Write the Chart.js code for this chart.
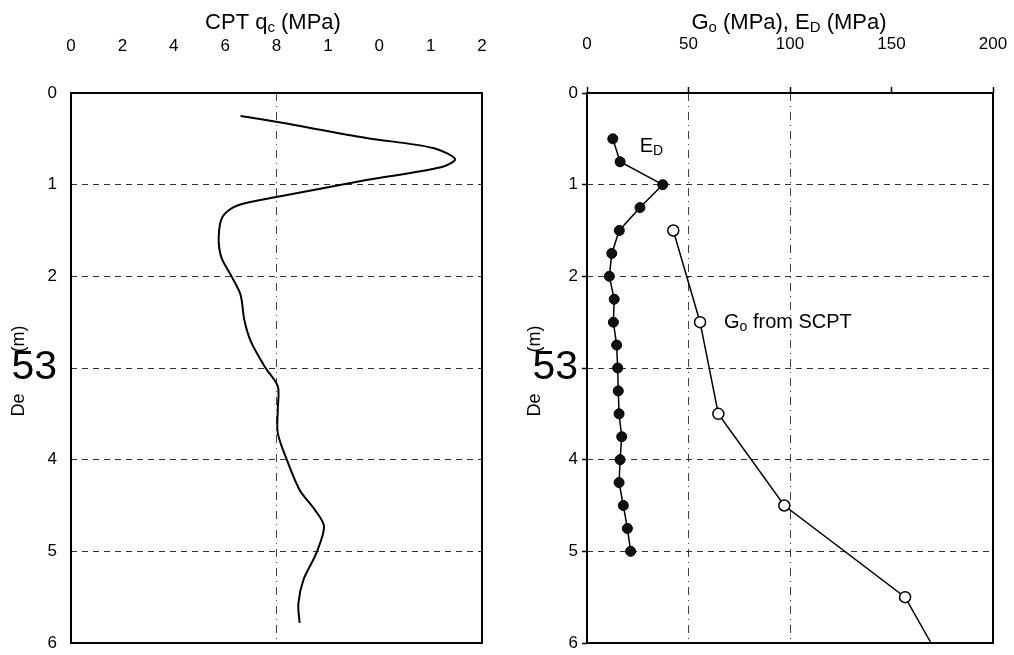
<!DOCTYPE html>
<html>
<head>
<meta charset="utf-8">
<script src="https://cdn.jsdelivr.net/npm/chart.js@4.4.0/dist/chart.umd.min.js"></script>
<style>
  body { margin: 0; background: #fff; }
  #wrap { position: relative; width: 1014px; height: 655px; background: #fff; }
  canvas { position: absolute; top: 0; }
</style>
</head>
<body>
<div id="wrap">
  <canvas id="cpt" width="507" height="655" style="left:0"></canvas>
  <canvas id="mod" width="507" height="655" style="left:507px"></canvas>
</div>
<script>
// left panel: CPT cone resistance vs depth
const cptDepth = [0.25, 0.32, 0.49, 0.60, 0.72, 0.81, 0.95, 1.13, 1.23, 1.35, 1.57, 1.79, 2.00, 2.20, 2.48, 2.71, 2.99, 3.20, 3.45, 3.71, 4.00, 4.33, 4.55, 4.73, 5.02, 5.31, 5.57, 5.78];
const cptQc    = [6.6, 8.1, 11.5, 14.1, 14.95, 14.4, 11.5, 8.1, 6.45, 5.9, 5.75, 5.85, 6.25, 6.6, 6.75, 7.0, 7.55, 8.05, 8.05, 8.05, 8.4, 8.9, 9.5, 9.85, 9.55, 9.05, 8.85, 8.9];
const cptTickLabels = ['0', '2', '4', '6', '8', '1', '0', '1', '2'];

// right panel: E_D (DMT) and G_o (SCPT)
const edDepth  = [0.5, 0.75, 1, 1.25, 1.5, 1.75, 2, 2.25, 2.5, 2.75, 3, 3.25, 3.5, 3.75, 4, 4.25, 4.5, 4.75, 5];
const edValues = [12.7, 16.3, 37.3, 26.1, 15.9, 12.2, 11.0, 13.4, 13.0, 14.6, 15.1, 15.4, 15.8, 17.1, 16.3, 15.8, 17.9, 19.9, 21.5];
const goDepth  = [1.5, 2.5, 3.5, 4.5, 5.5, 6.0];
const goValues = [42.5, 55.7, 64.7, 97.2, 156.7, 169.5];

// depth labels as printed (the "3" came out as a big "53"), indexed by depth
const depthTickLabels = ['0', '1', '2', '53', '4', '5', '6'];

const FONT = "'Liberation Sans', Arial, sans-serif";
const pts = (xs, ys) => xs.map((v, i) => ({ x: v, y: ys[i] }));
const clear = 'rgba(0,0,0,0)';

// text with subscripts: parts = [[text, isSub], ...]
function richText(ctx, parts, x, y, size, align) {
  ctx.textBaseline = 'alphabetic';
  ctx.textAlign = 'left';
  let w = 0;
  parts.forEach(p => {
    ctx.font = (p[1] ? Math.round(size * 0.68) : size) + 'px ' + FONT;
    w += ctx.measureText(p[0]).width;
  });
  let cx = align === 'center' ? x - w / 2 : x;
  parts.forEach(p => {
    ctx.font = (p[1] ? Math.round(size * 0.68) : size) + 'px ' + FONT;
    ctx.fillText(p[0], cx, p[1] ? y + 3 : y);
    cx += ctx.measureText(p[0]).width;
  });
}

const decor = {
  id: 'decor',
  afterDraw(chart, args, o) {
    const { ctx, chartArea: a } = chart;
    ctx.save();
    // frame
    ctx.strokeStyle = '#000';
    ctx.lineWidth = 2;
    ctx.strokeRect(a.left, a.top, a.right - a.left, a.bottom - a.top);
    ctx.fillStyle = '#000';
    // title
    richText(ctx, o.title, o.titleX, 29, 22, 'center');
    // broken depth title: "De" ... "(m)" rotated
    ctx.font = '18px ' + FONT;
    ctx.textAlign = 'center';
    ctx.textBaseline = 'middle';
    [['De', 405], ['(m)', 339]].forEach(t => {
      ctx.save();
      ctx.translate(o.axisX, t[1]);
      ctx.rotate(-Math.PI / 2);
      ctx.fillText(t[0], 0, 0);
      ctx.restore();
    });
    // annotations
    (o.notes || []).forEach(n => {
      const px = chart.scales.x.getPixelForValue(n.x);
      const py = chart.scales.y.getPixelForValue(n.y);
      richText(ctx, n.parts, px, py, 20, 'left');
    });
    ctx.restore();
  }
};

const tickFont = { family: FONT, size: 17 };
const depthFont = c => (c.tick && c.tick.value === 3 ? { family: FONT, size: 41 } : tickFont);
const depthLabel = v => depthTickLabels[Math.round(v)];
const noPadX = s => { s.height = 93; s.paddingLeft = 0; s.paddingRight = 0; };

new Chart(document.getElementById('cpt'), {
  type: 'scatter',
  data: {
    datasets: [{
      data: pts(cptQc, cptDepth),
      showLine: true,
      borderColor: '#000',
      borderWidth: 2,
      pointRadius: 0,
      tension: 0.3
    }]
  },
  options: {
    responsive: false,
    animation: false,
    layout: { padding: { top: 0, right: 25, bottom: 12, left: 0 } },
    plugins: {
      legend: { display: false },
      tooltip: { enabled: false },
      decor: {
        title: [['CPT q', false], ['c', true], [' (MPa)', false]],
        titleX: 273,
        axisX: 19
      }
    },
    scales: {
      x: {
        type: 'linear', position: 'top', min: 0, max: 16,
        afterFit: noPadX,
        ticks: {
          stepSize: 2, color: '#000', font: tickFont, padding: 36, maxRotation: 0,
          callback: (v, i) => cptTickLabels[i]
        },
        grid: {
          drawTicks: false, lineWidth: 1,
          color: c => (c.tick && c.tick.value === 8 ? '#444' : clear)
        },
        border: { display: false, dash: [8, 5, 1, 5] }
      },
      y: {
        type: 'linear', reverse: true, min: 0, max: 6,
        afterFit: s => { s.width = 71; s.paddingTop = 0; s.paddingBottom = 0; },
        ticks: { stepSize: 1, color: '#000', font: depthFont, padding: 14, callback: depthLabel },
        grid: {
          drawTicks: false, lineWidth: 1,
          color: c => (c.tick && c.tick.value > 0 && c.tick.value < 6 ? '#333' : clear)
        },
        border: { display: false, dash: [6, 5] }
      }
    }
  },
  plugins: [decor]
});

new Chart(document.getElementById('mod'), {
  type: 'scatter',
  data: {
    datasets: [{
      data: pts(edValues, edDepth),
      showLine: true,
      borderColor: '#000',
      borderWidth: 1.5,
      pointRadius: 5,
      pointBackgroundColor: '#111',
      pointBorderColor: '#000',
      pointBorderWidth: 1
    }, {
      data: pts(goValues, goDepth),
      showLine: true,
      borderColor: '#000',
      borderWidth: 1.5,
      pointRadius: goDepth.map(d => (d < 6 ? 5.5 : 0)),
      pointBackgroundColor: '#fff',
      pointBorderColor: '#000',
      pointBorderWidth: 1.5
    }]
  },
  options: {
    responsive: false,
    animation: false,
    layout: { padding: { top: 0, right: 21, bottom: 12, left: 0 } },
    plugins: {
      legend: { display: false },
      tooltip: { enabled: false },
      decor: {
        title: [['G', false], ['o', true], [' (MPa), E', false], ['D', true], [' (MPa)', false]],
        titleX: 282,
        axisX: 28,
        notes: [
          { x: 26, y: 0.64, parts: [['E', false], ['D', true]] },
          { x: 67.5, y: 2.56, parts: [['G', false], ['o', true], [' from SCPT', false]] }
        ]
      }
    },
    scales: {
      x: {
        type: 'linear', position: 'top', min: 0, max: 200,
        afterFit: noPadX,
        ticks: { stepSize: 50, color: '#000', font: tickFont, padding: 32, maxRotation: 0 },
        grid: {
          drawTicks: true, tickLength: 6, tickColor: '#000', tickWidth: 1.5, lineWidth: 1,
          color: c => (c.tick && (c.tick.value === 50 || c.tick.value === 100) ? '#444' : clear)
        },
        border: { display: false, dash: [8, 5, 1, 5] }
      },
      y: {
        type: 'linear', reverse: true, min: 0, max: 6,
        afterFit: s => { s.width = 80; s.paddingTop = 0; s.paddingBottom = 0; },
        ticks: { stepSize: 1, color: '#000', font: depthFont, padding: 4, callback: depthLabel },
        grid: {
          drawTicks: true, tickLength: 5, tickColor: '#000', tickWidth: 1.5, lineWidth: 1,
          color: c => (c.tick && c.tick.value > 0 && c.tick.value < 6 ? '#333' : clear)
        },
        border: { display: false, dash: [6, 5] }
      }
    }
  },
  plugins: [decor]
});
</script>
</body>
</html>
